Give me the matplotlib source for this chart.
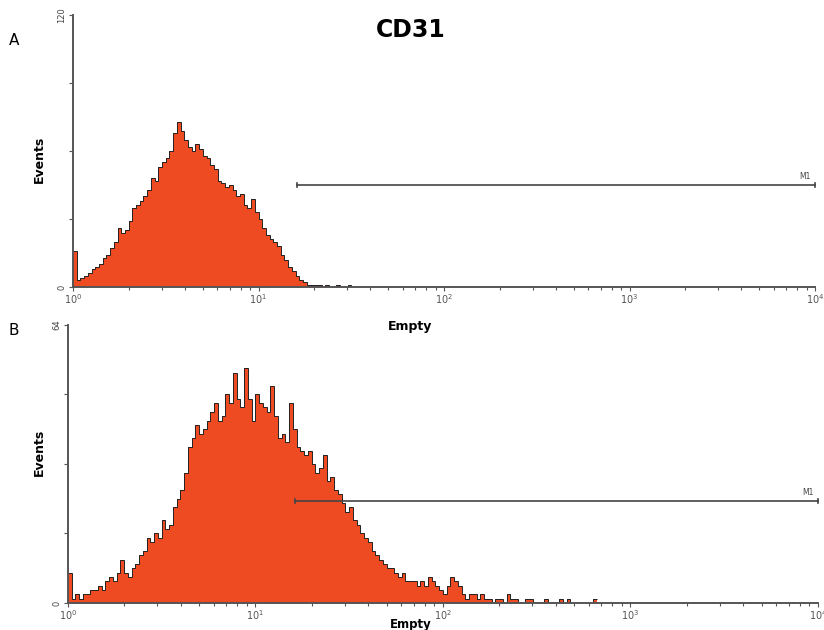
import numpy as np
import matplotlib
matplotlib.use('Agg')
import matplotlib.pyplot as plt

# Histogram counts, one value per 0.02-decade bin starting at 10^0
bin_width_log = 0.02

counts_a = [16, 3, 4, 5, 6, 8, 9, 10, 13, 14,
            17, 20, 26, 24, 25, 29, 35, 36, 38, 40,
            43, 48, 47, 53, 55, 57, 60, 68, 73, 69,
            65, 62, 60, 63, 61, 58, 57, 54, 52, 47,
            46, 44, 45, 43, 40, 41, 36, 35, 39, 33,
            30, 26, 23, 21, 20, 18, 14, 12, 9, 7,
            5, 3, 2, 1, 1, 1, 1, 0, 1, 0,
            0, 1, 0, 0, 1, 0, 0]

counts_b = [7, 1, 2, 1, 2, 2, 3, 3, 4, 3,
            5, 6, 5, 7, 10, 7, 6, 8, 9, 11,
            12, 15, 14, 16, 15, 19, 17, 18, 22, 24,
            26, 30, 36, 38, 41, 39, 40, 42, 44, 46,
            42, 43, 48, 46, 53, 47, 45, 54, 47, 42,
            48, 46, 45, 44, 50, 43, 38, 39, 37, 46,
            40, 36, 35, 34, 35, 32, 30, 31, 34, 28,
            29, 26, 25, 23, 21, 22, 19, 18, 16, 15,
            14, 12, 11, 10, 9, 8, 8, 7, 6, 7,
            5, 5, 5, 4, 5, 4, 6, 5, 4, 3,
            2, 4, 6, 5, 4, 2, 1, 2, 2, 1,
            2, 1, 1, 0, 1, 1, 0, 2, 1, 1,
            0, 0, 1, 1, 0, 0, 0, 1, 0, 0,
            0, 1, 0, 1, 0, 0, 0, 0, 0, 0,
            1]

ymax_a = 120
ymax_b = 64
yticks_a = [0, 30, 60, 90, 120]
yticks_b = [0, 16, 32, 48, 64]

# M1 marker gate: (start, end, height)
m1_a = (16.1, 1e4, 45)
m1_b = (16.2, 1e4, 23.5)

fill_color = '#EF4B23'
axis_color = '#555555'


def draw_hist(ax, counts, ymax, yticks, m1, label_x, label_y):
    edges = 10 ** (np.arange(len(counts) + 1) * bin_width_log)
    ax.stairs(counts, edges, fill=True, color=fill_color, baseline=0)
    ax.stairs(counts, edges, color='#222222', linewidth=0.7, baseline=None)

    ax.set_xscale('log')
    ax.set_xlim(1, 1e4)
    ax.set_ylim(0, ymax)

    for s in ['top', 'right']:
        ax.spines[s].set_visible(False)
    for s in ['left', 'bottom']:
        ax.spines[s].set_color(axis_color)
        ax.spines[s].set_linewidth(1.4)

    ax.set_yticks(yticks)
    ax.set_yticklabels(['0'] + [''] * (len(yticks) - 2) + [str(ymax)],
                       rotation=90, va='center', fontsize=6, color='#444444')
    ax.tick_params(axis='y', length=3, width=0.8, color=axis_color, pad=2)
    ax.set_xticks([1, 10, 100, 1000, 10000])
    ax.set_xticklabels([r'$10^0$', r'$10^1$', r'$10^2$', r'$10^3$', r'$10^4$'],
                       fontsize=7, color='#555555')
    ax.tick_params(axis='x', which='major', length=3, width=0.8, color=axis_color, pad=1)
    ax.tick_params(axis='x', which='minor', length=2, width=0.8, color=axis_color)
    ax.set_ylabel('Events', fontsize=9, fontweight='bold')
    ax.yaxis.set_label_coords(label_x, label_y)

    # M1 gate line
    x0, x1, h = m1
    ax.plot([x0, x1], [h, h], color='#444444', linewidth=1.2, clip_on=False)
    ax.plot([x0, x0], [h - ymax * 0.006, h + ymax * 0.006], color='#444444', linewidth=1.2)
    ax.plot([x1, x1], [h - ymax * 0.006, h + ymax * 0.006], color='#444444', linewidth=1.2,
            clip_on=False)
    ax.text(x1 * 0.88, h + ymax * 0.015, 'M1', fontsize=5.5, ha='center', va='bottom',
            color='#444444')


fig = plt.figure(figsize=(8.24, 6.3), dpi=100)
ax_a = fig.add_axes([0.0886, 0.5444, 0.9005, 0.4317])
ax_b = fig.add_axes([0.0825, 0.0429, 0.9102, 0.4413])

draw_hist(ax_a, counts_a, ymax_a, yticks_a, m1_a, -0.036, 0.47)
draw_hist(ax_b, counts_b, ymax_b, yticks_b, m1_b, -0.029, 0.54)

fig.text(0.498, 0.952, 'CD31', fontsize=17, fontweight='bold', ha='center', va='center')
fig.text(0.017, 0.936, 'A', fontsize=11, ha='center', va='center')
fig.text(0.017, 0.476, 'B', fontsize=11, ha='center', va='center')
fig.text(0.498, 0.482, 'Empty', fontsize=9, fontweight='bold', ha='center', va='center')
fig.text(0.498, 0.009, 'Empty', fontsize=8.5, fontweight='bold', ha='center', va='center')

fig.savefig('out.png', dpi=100)
